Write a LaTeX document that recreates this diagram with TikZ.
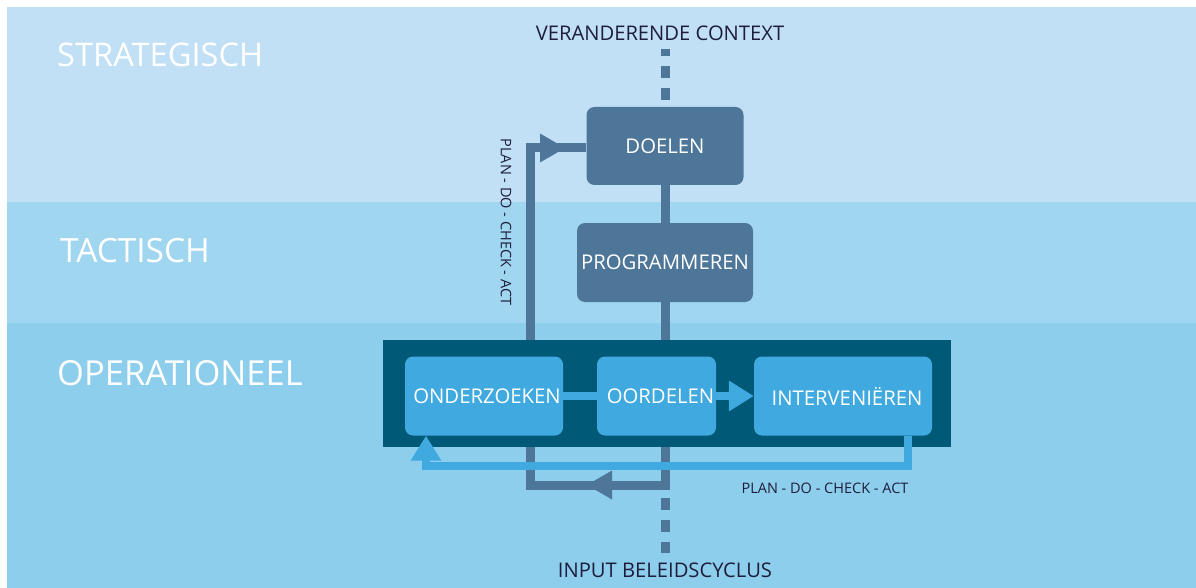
\documentclass[tikz,border=0pt]{standalone}
\usepackage{fontspec}
\setmainfont{Open Sans}
\usetikzlibrary{arrows.meta}
\definecolor{bandS}{HTML}{C1E0F5}
\definecolor{bandT}{HTML}{A0D6EF}
\definecolor{bandO}{HTML}{8DCEEC}
\definecolor{slate}{HTML}{4E7699}
\definecolor{deep}{HTML}{005A77}
\definecolor{sky}{HTML}{3FA9E0}
\definecolor{ink}{HTML}{1E1E3C}
\tikzset{
  levellabel/.style={anchor=west, text=white, inner sep=0},
  boxfont/.style={font=\fontsize{20.3}{20.3}\selectfont},
  slatebox/.style={draw=none, fill=slate, rounded corners=8pt, text=white, boxfont, inner sep=0},
  skybox/.style={draw=none, fill=sky, rounded corners=8pt, text=white, boxfont, inner sep=0},
  slateline/.style={draw=slate, line width=9pt},
  skyline/.style={draw=sky, line width=8pt},
  dotline/.style={draw=slate, line width=9pt, dash pattern=on 12pt off 10pt},
  bigtip/.style={-{Triangle[length=25pt,width=29pt]}},
  note/.style={text=ink, inner sep=0},
  bignote/.style={note, font=\fontsize{20.2}{20.2}\selectfont},
  smallnote/.style={note, font=\fontsize{14.5}{14.5}\selectfont},
}
\begin{document}
\begin{tikzpicture}[x=1pt,y=-1pt]
\useasboundingbox (0,0) rectangle (1196,588);
% bands
\fill[white] (0,0) rectangle (1196,588);
\fill[bandS] (7,7) rectangle (1196,202);
\fill[bandT] (7,202) rectangle (1196,323);
\fill[bandO] (7,323) rectangle (1196,588);
\node[levellabel, font=\fontsize{32.6}{32.6}\selectfont] (ls) at (57,55) {STRATEGISCH};
\node[levellabel, font=\fontsize{33.4}{33.4}\selectfont] (lt) at (60,251) {TACTISCH};
\node[levellabel, font=\fontsize{34.5}{34.5}\selectfont] (lo) at (57,373) {OPERATIONEEL};
% top nodes
\node[bignote] (ctx) at (660,33) {VERANDERENDE CONTEXT};
\node[slatebox, minimum width=157pt, minimum height=78pt] (doel) at (665,146) {DOELEN};
\node[slatebox, minimum width=176pt, minimum height=79pt] (prog) at (665,262.5) {PROGRAMMEREN};
\coordinate (br) at (665,485);
\coordinate (bl) at (530,485);
\coordinate (tl) at (530,148);
\coordinate (inTop) at (665,498);
\coordinate (inBot) at (665,553);
% slate connectors (behind)
\draw[dotline, dash phase=15pt] (doel.north) -- (665,49);
\draw[slateline] (doel.south) -- (prog.north);
\draw[slateline] (prog.south) -- (br) -- (bl) -- (tl) -- (tl -| doel.west);
\draw[slateline, bigtip, line width=0pt] (612,485) -- (587,485);
\draw[slateline, bigtip, line width=0pt] (540,148) -- (565,148);
\draw[dotline] (inTop) -- (inBot);
% operational frame
\fill[deep] (383,340) rectangle (951,447);
\node[skybox, minimum width=158pt, minimum height=79pt] (oz) at (484,396) {\hspace{6pt}ONDERZOEKEN};
\node[skybox, minimum width=119pt, minimum height=79pt] (oo) at (656.5,396) {\hspace{8pt}OORDELEN};
\node[skybox, minimum width=178pt, minimum height=79pt] (iv) at (843,396) {\hspace{8pt}INTERVENIËREN};
\draw[skyline] (oz.east) -- (oo.west);
\draw[skyline, bigtip] (oo.east) -- (iv.west);
\coordinate (fbR) at (908,466);
\coordinate (fbL) at (426,466);
\draw[skyline, bigtip] (iv.south -| fbR) -- (fbR) -- (fbL) -- (fbL |- oz.south);
% labels
\node[bignote] (inp) at (665,570) {INPUT BELEIDSCYCLUS};
\node[smallnote] (pdca1) at (825,488) {PLAN - DO - CHECK - ACT};
\node[smallnote, rotate=-90] (pdca2) at (506,222) {PLAN - DO - CHECK - ACT};
\end{tikzpicture}
\end{document}
